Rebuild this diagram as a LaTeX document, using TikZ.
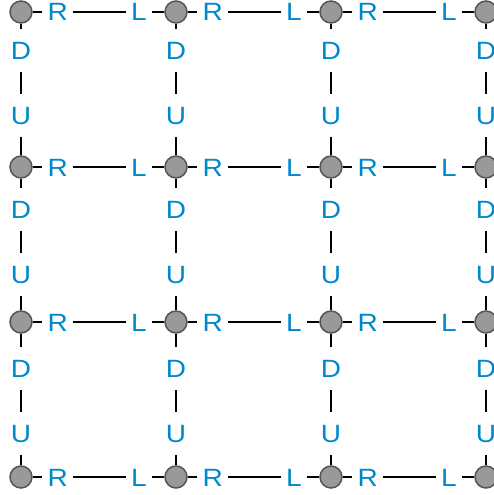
\documentclass[tikz,border=0pt]{standalone}
\usepackage{fontspec}
\setmainfont{Liberation Sans}[FakeStretch=1.12]
\definecolor{lblblue}{RGB}{0,136,204}
\definecolor{dotfill}{RGB}{153,153,153}
\definecolor{dotline}{RGB}{85,85,85}
\begin{document}
\begin{tikzpicture}[x=1pt,y=-1pt,
  dot/.style={circle, draw=dotline, fill=dotfill, line width=1.5pt, minimum size=22pt, inner sep=0pt},
  link/.style={line width=1.6pt, draw=black},
  lbl/.style={fill=white, text=lblblue, font=\fontsize{25}{30}\selectfont, inner xsep=5.5pt, inner ysep=12.5pt, text height=18pt, text depth=0pt}]
\useasboundingbox (0,0) rectangle (493,495);
\foreach \i in {0,...,3} {
  \foreach \j in {0,...,3} {
    \node[dot] (n\i\j) at ({21+155*\i},{12+155*\j}) {};
  }
}
\foreach \i/\k in {0/1,1/2,2/3} {
  \foreach \j in {0,...,3} {
    \draw[link] (n\i\j) -- node[lbl,pos=0.19]{R} node[lbl,pos=0.808]{L} (n\k\j);
  }
}
\foreach \j/\k/\p/\q in {0/1/0.203/0.698, 1/2/0.234/0.728, 2/3/0.268/0.755} {
  \foreach \i in {0,...,3} {
    \draw[link] (n\i\j) -- node[lbl,pos=\p]{D} node[lbl,pos=\q]{U} (n\i\k);
  }
}
\end{tikzpicture}
\end{document}
